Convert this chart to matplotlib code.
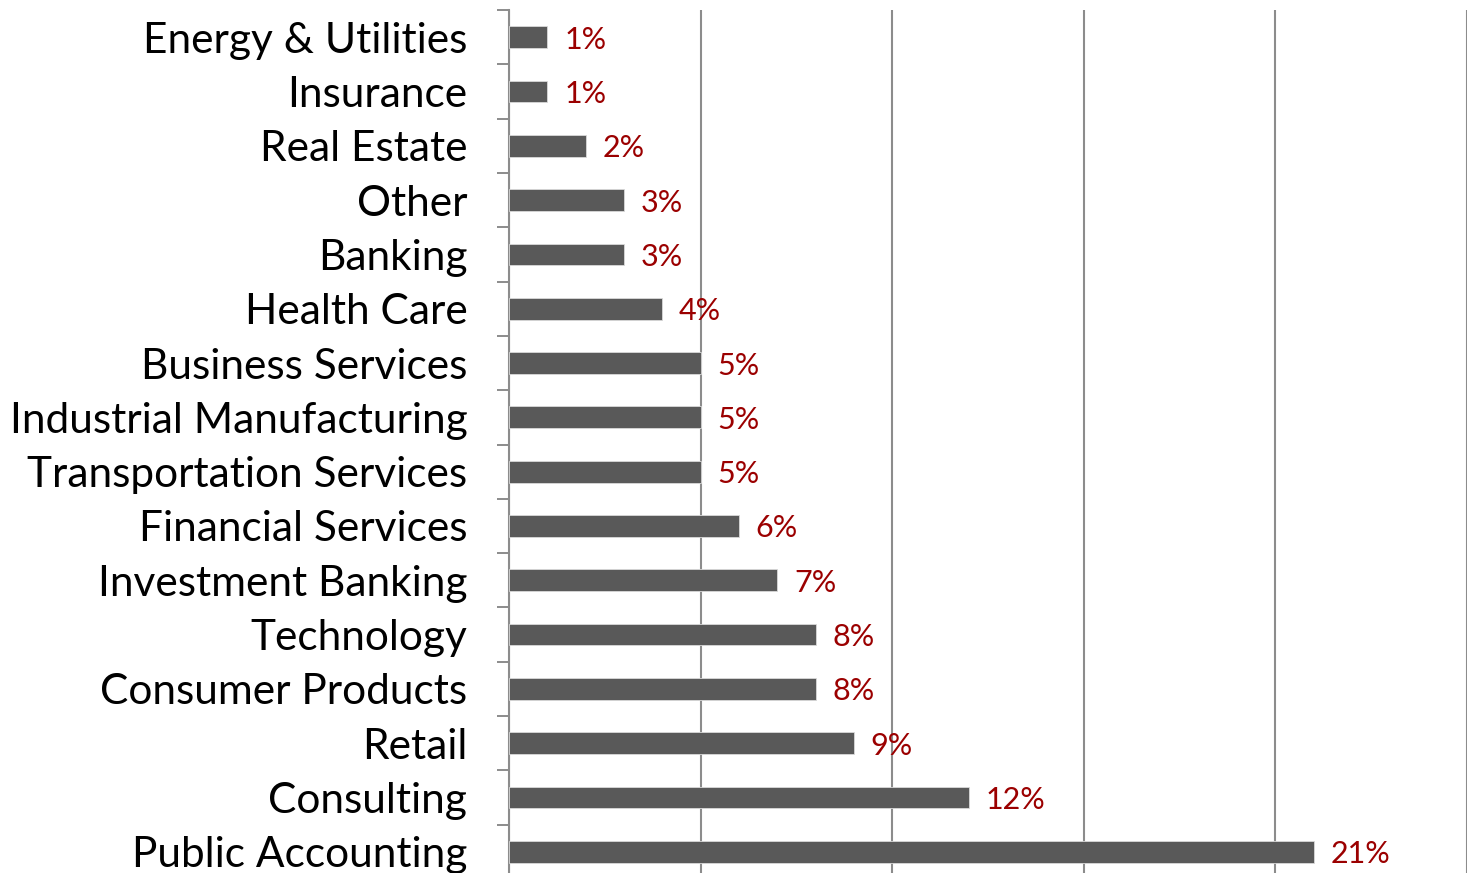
import matplotlib

matplotlib.use("Agg")
import matplotlib.pyplot as plt
import numpy as np
from matplotlib.ticker import FixedLocator, MultipleLocator

# categories listed top to bottom, as in the reference
industries = [
    "Energy & Utilities", "Insurance", "Real Estate", "Other", "Banking",
    "Health Care", "Business Services", "Industrial Manufacturing",
    "Transportation Services", "Financial Services", "Investment Banking",
    "Technology", "Consumer Products", "Retail", "Consulting",
    "Public Accounting",
]
share = [0.01, 0.01, 0.02, 0.03, 0.03, 0.04, 0.05, 0.05, 0.05, 0.06, 0.07,
         0.08, 0.08, 0.09, 0.12, 0.21]

BAR = "#595959"
GRID = "#8c8c8c"
LABEL = "#9b0000"

plt.rcParams["font.family"] = ["Lato", "DejaVu Sans"]

fig = plt.figure(figsize=(14.71, 8.73), dpi=100)
ax = fig.add_axes([509 / 1471, -6 / 873, 958 / 1471, 869 / 873])

y = np.arange(len(industries))
ax.barh(y, share, height=0.4, color=BAR, edgecolor="#d9d9d9", linewidth=0.6,
        zorder=3)
for yi, v in zip(y, share):
    ax.text(v + 0.0044, yi, f"{v * 100:.0f}%", va="center_baseline",
            ha="left", color=LABEL, fontsize=22, zorder=4)

ax.set_xlim(0, 0.25)
ax.set_ylim(len(industries) - 0.5, -0.5)
ax.xaxis.set_major_locator(MultipleLocator(0.05))
ax.grid(axis="x", color=GRID, linewidth=1.5, zorder=1)
ax.tick_params(axis="x", bottom=False, labelbottom=False)

ax.set_yticks(y)
ax.set_yticklabels(industries, fontsize=30.5, va="center_baseline")
ax.yaxis.set_minor_locator(FixedLocator(np.arange(-0.5, len(industries), 1)))
ax.tick_params(axis="y", which="major", length=0, pad=30)
ax.tick_params(axis="y", which="minor", length=8.6, width=1.4, color=GRID)

for side in ["top", "right", "bottom"]:
    ax.spines[side].set_visible(False)
ax.spines["left"].set_color(GRID)
ax.spines["left"].set_linewidth(1.5)

fig.savefig("out.png")
